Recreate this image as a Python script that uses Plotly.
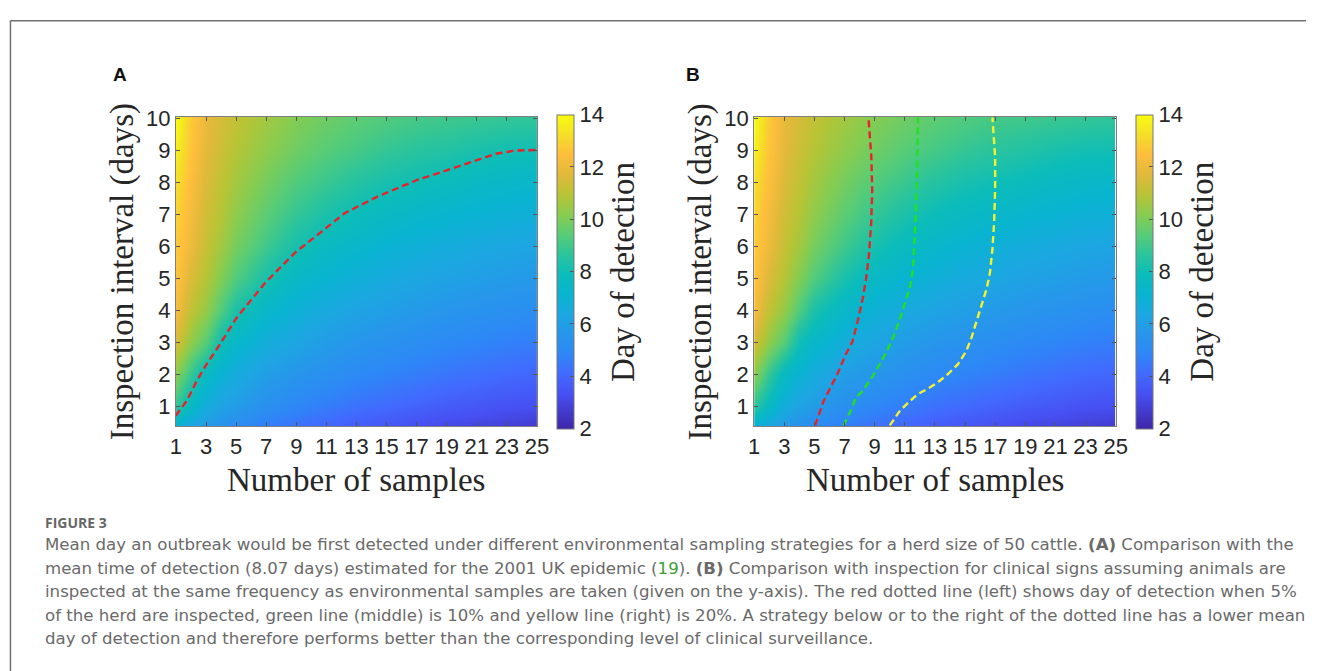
import plotly.graph_objects as go

W, H = 1318, 671

# ---------------- data ----------------
n_samples = [1, 2, 3, 4, 5, 7, 9, 11, 13, 15, 17, 19, 21, 23, 25]
interval_days = [0.37, 1, 2, 3, 4, 5, 6, 7, 8, 9, 10]

# mean day of detection, one row per inspection interval (rows follow interval_days)
day_T0_37 = [7.0, 6.3, 5.8, 5.4, 5.1, 4.6, 4.3, 4.0, 3.7, 3.5, 3.3, 3.1, 3.0, 2.85, 2.7]
day_T1 = [8.7, 7.6, 6.7, 6.2, 5.9, 5.3, 4.9, 4.6, 4.3, 4.1, 3.9, 3.7, 3.55, 3.4, 3.3]
day_T2 = [10.2, 8.8, 7.6, 7.0, 6.6, 6.0, 5.6, 5.3, 5.0, 4.8, 4.6, 4.4, 4.25, 4.1, 4.0]
day_T3 = [11.5, 10.3, 9.4, 8.0, 7.4, 6.7, 6.3, 5.9, 5.6, 5.4, 5.2, 5.0, 4.85, 4.7, 4.6]
day_T4 = [12.3, 11.1, 10.4, 9.3, 8.3, 7.4, 6.9, 6.5, 6.2, 6.0, 5.8, 5.6, 5.45, 5.3, 5.2]
day_T5 = [12.6, 11.6, 10.9, 10.1, 9.3, 8.25, 7.5, 7.1, 6.8, 6.55, 6.35, 6.15, 6.0, 5.85, 5.75]
day_T6 = [12.8, 12.0, 11.2, 10.6, 9.9, 9.0, 8.2, 7.7, 7.35, 7.05, 6.85, 6.65, 6.5, 6.35, 6.25]
day_T7 = [13.0, 12.2, 11.4, 10.9, 10.3, 9.5, 8.8, 8.3, 7.9, 7.6, 7.4, 7.2, 7.05, 6.9, 6.8]
day_T8 = [13.3, 12.4, 11.6, 11.1, 10.6, 9.9, 9.3, 8.9, 8.5, 8.2, 8.0, 7.8, 7.6, 7.45, 7.35]
day_T9 = [13.7, 12.6, 11.8, 11.3, 10.9, 10.3, 9.8, 9.4, 9.1, 8.8, 8.6, 8.45, 8.25, 8.1, 8.05]
day_T10 = [14.0, 12.8, 11.9, 11.5, 11.1, 10.6, 10.1, 9.8, 9.5, 9.3, 9.1, 9.0, 8.9, 8.8, 8.7]

# (A) contour of the 2001 UK mean detection time (8.07 days)
uk2001_x = [1.0, 1.07, 1.72, 2.38, 3.03, 3.91, 5.0, 6.1, 6.97, 8.06, 8.93, 10.03, 11.12,
            12.21, 13.09, 14.4, 15.71, 17.03, 18.34, 19.65, 20.96, 22.27, 23.58, 24.9, 25.0]
uk2001_y = [0.70, 0.76, 1.17, 1.79, 2.31, 2.93, 3.75, 4.37, 4.88, 5.40, 5.81, 6.22, 6.63,
            7.04, 7.25, 7.56, 7.82, 8.08, 8.28, 8.49, 8.69, 8.90, 9.0, 9.02, 9.02]

# (B) clinical inspection equivalence lines
clin5_x = [5.05, 5.62, 6.02, 6.52, 7.08, 7.53, 7.87, 8.21, 8.43, 8.62, 8.77, 8.84, 8.78, 8.59]
clin5_y = [0.40, 1.17, 1.54, 2.0, 2.62, 3.03, 3.65, 4.37, 4.99, 5.71, 6.73, 7.77, 8.80, 10.03]
clin10_x = [6.93, 7.42, 7.76, 8.21, 8.88, 9.45, 10.13, 10.69, 11.03, 11.32, 11.55, 11.66,
            11.75, 11.82, 11.86, 11.88]
clin10_y = [0.40, 0.87, 1.28, 1.48, 1.95, 2.41, 3.03, 3.75, 4.26, 4.68, 5.29, 6.22,
            7.25, 8.28, 9.31, 10.03]
clin20_x = [10.01, 10.69, 11.36, 11.86, 12.49, 13.17, 13.85, 14.52, 15.08, 15.42, 15.76,
            16.10, 16.44, 16.66, 16.82, 16.93, 17.0, 17.0, 16.91, 16.82]
clin20_y = [0.40, 0.87, 1.17, 1.38, 1.54, 1.74, 2.0, 2.31, 2.72, 3.13, 3.65,
            4.16, 4.68, 5.19, 5.91, 6.73, 7.77, 8.80, 9.62, 10.03]

x_ticks = [1, 3, 5, 7, 9, 11, 13, 15, 17, 19, 21, 23, 25]
y_ticks = [1, 2, 3, 4, 5, 6, 7, 8, 9, 10]
cbar_ticks = [2, 4, 6, 8, 10, 12, 14]

# ---------------- style ----------------
parula = [
    [0.000, "rgb(62,38,168)"], [0.111, "rgb(71,80,242)"], [0.175, "rgb(66,106,254)"],
    [0.238, "rgb(46,135,247)"], [0.302, "rgb(39,150,235)"], [0.365, "rgb(28,167,225)"],
    [0.429, "rgb(8,180,208)"], [0.492, "rgb(11,188,187)"], [0.556, "rgb(44,196,156)"],
    [0.619, "rgb(88,204,119)"], [0.683, "rgb(136,204,80)"], [0.746, "rgb(184,196,53)"],
    [0.810, "rgb(225,185,58)"], [0.873, "rgb(254,190,61)"], [0.937, "rgb(245,222,41)"],
    [1.000, "rgb(249,251,14)"],
]

z = [day_T0_37, day_T1, day_T2, day_T3, day_T4, day_T5, day_T6, day_T7, day_T8, day_T9, day_T10]

PLOT_TOP, PLOT_BOT = 108.3, 422.7
A_L, A_R = 172.3, 538.3
B_L, B_R = 758.5, 1125.0
CB_A, CB_B = 559.0, 1145.7

serif = "Liberation Serif"
sans = "Liberation Sans"
axis_col = "#262626"


def fx(p):
    return p / W


def fy(p):
    return 1 - p / H


def cbar(xleft):
    return dict(
        x=fx(xleft), xanchor="left", xpad=0, ypad=0,
        y=fy((PLOT_TOP + PLOT_BOT) / 2), yanchor="middle",
        len=PLOT_BOT - PLOT_TOP, lenmode="pixels",
        thickness=17, thicknessmode="pixels",
        outlinewidth=1, outlinecolor="#777777",
        tickmode="array", tickvals=cbar_ticks,
        ticks="inside", ticklen=4, tickcolor="#555555",
        tickfont=dict(family=sans, size=22, color=axis_col),
    )


fig = go.Figure()
for ax, cbx in (("", CB_A), ("2", CB_B)):
    fig.add_trace(go.Heatmap(
        x=n_samples, y=interval_days, z=z, zsmooth="best",
        colorscale=parula, zmin=2, zmax=14,
        xaxis="x" + ax, yaxis="y" + ax,
        colorbar=cbar(cbx), hoverinfo="skip",
    ))

dash = "7px,4px"
fig.add_trace(go.Scatter(x=uk2001_x, y=uk2001_y, mode="lines", xaxis="x", yaxis="y",
                         line=dict(color="#e8222a", width=2.4, dash=dash), showlegend=False))
fig.add_trace(go.Scatter(x=clin5_x, y=clin5_y, mode="lines", xaxis="x2", yaxis="y2",
                         line=dict(color="#e8222a", width=2.4, dash=dash), showlegend=False))
fig.add_trace(go.Scatter(x=clin10_x, y=clin10_y, mode="lines", xaxis="x2", yaxis="y2",
                         line=dict(color="#22e022", width=2.4, dash=dash), showlegend=False))
fig.add_trace(go.Scatter(x=clin20_x, y=clin20_y, mode="lines", xaxis="x2", yaxis="y2",
                         line=dict(color="#f2f230", width=2.4, dash=dash), showlegend=False))

xa = dict(range=[1, 25], tickmode="array", tickvals=x_ticks, ticks="inside", ticklen=4,
          tickcolor="#555555", showline=True, linecolor="#808080", linewidth=1, mirror="allticks",
          showgrid=False, zeroline=False,
          tickfont=dict(family=sans, size=22, color=axis_col))
ya = dict(range=[0.37, 10.06], tickmode="array", tickvals=y_ticks, ticks="inside", ticklen=4,
          tickcolor="#555555", showline=True, linecolor="#808080", linewidth=1, mirror="allticks",
          showgrid=False, zeroline=False,
          tickfont=dict(family=sans, size=22, color=axis_col))

fig.update_layout(
    width=W, height=H, margin=dict(l=0, r=0, t=0, b=0),
    paper_bgcolor="white", plot_bgcolor="white", showlegend=False,
    xaxis=dict(xa, domain=[fx(A_L), fx(A_R)], anchor="y"),
    yaxis=dict(ya, domain=[fy(PLOT_BOT), fy(PLOT_TOP)], anchor="x"),
    xaxis2=dict(xa, domain=[fx(B_L), fx(B_R)], anchor="y2"),
    yaxis2=dict(ya, domain=[fy(PLOT_BOT), fy(PLOT_TOP)], anchor="x2"),
)

ann = []


def add_text(text, x, y, size, family, color="#262626", angle=0, xanchor="center", yanchor="middle"):
    ann.append(dict(text=text, x=fx(x), y=fy(y), xref="paper", yref="paper", showarrow=False,
                    xanchor=xanchor, yanchor=yanchor, textangle=angle,
                    font=dict(size=size, family=family, color=color)))


mid_y = (PLOT_TOP + PLOT_BOT) / 2
for L, R, cb, lab, labx in ((A_L, A_R, CB_A, "A", 115.5), (B_L, B_R, CB_B, "B", 697)):
    add_text("Number of samples", (L + R) / 2, 477, 33, serif)
    add_text("Inspection interval (days)", L - 54, mid_y, 33, serif, angle=-90)
    add_text("Day of detection", cb + 66, mid_y, 33, serif, angle=-90)
    add_text("<b>%s</b>" % lab, labx, 65, 19, sans, color="#111111")

cap_col = "#6a6a6a"
cap_font = "DejaVu Sans"
add_text("<b>FIGURE 3</b>", 37.7, 520, 14, "Open Sans", color="#666666", xanchor="left")
caption_lines = [
    "Mean day an outbreak would be first detected under different environmental sampling strategies for a herd size of 50 cattle. <b>(A)</b> Comparison with the",
    "mean time of detection (8.07 days) estimated for the 2001 UK epidemic (<span style='color:#3aa035'>19</span>). <b>(B)</b> Comparison with inspection for clinical signs assuming animals are",
    "inspected at the same frequency as environmental samples are taken (given on the y-axis). The red dotted line (left) shows day of detection when 5%",
    "of the herd are inspected, green line (middle) is 10% and yellow line (right) is 20%. A strategy below or to the right of the dotted line has a lower mean",
    "day of detection and therefore performs better than the corresponding level of clinical surveillance.",
]
for i, line in enumerate(caption_lines):
    add_text(line, 37.7, 543 + 23.8 * i, 16.6, cap_font, color=cap_col, xanchor="left")

fig.update_layout(annotations=ann)

fig.update_layout(shapes=[
    dict(type="line", xref="paper", yref="paper", x0=fx(4.5), x1=fx(4.5), y0=0, y1=fy(11),
         line=dict(color="#707070", width=1.5)),
    dict(type="line", xref="paper", yref="paper", x0=fx(4.5), x1=1, y0=fy(11), y1=fy(11),
         line=dict(color="#707070", width=1.5)),
])

fig.write_html("out.html", config={"displayModeBar": False},
               post_script="document.body.style.margin='0px';")
